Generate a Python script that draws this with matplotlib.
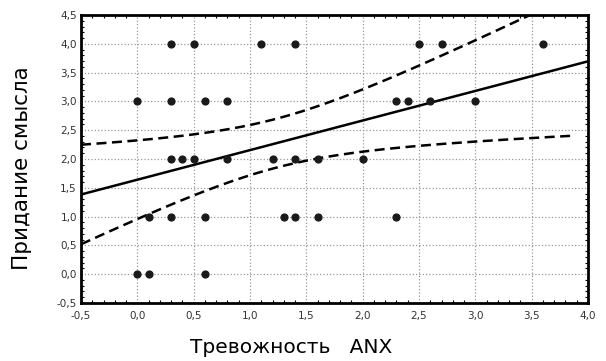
import numpy as np
import matplotlib.pyplot as plt
from matplotlib.ticker import MultipleLocator, FuncFormatter

# Scatter data (ANX vs meaning score)
anx = [0.3, 0.5, 1.1, 1.4, 2.5, 2.7, 3.6,
       0.0, 0.3, 0.6, 0.8, 2.3, 2.4, 2.6, 3.0,
       0.3, 0.4, 0.5, 0.8, 1.2, 1.4, 1.6, 2.0,
       0.1, 0.3, 0.6, 1.3, 1.4, 1.6, 2.3,
       0.0, 0.1, 0.6]
meaning = [4, 4, 4, 4, 4, 4, 4,
           3, 3, 3, 3, 3, 3, 3, 3,
           2, 2, 2, 2, 2, 2, 2, 2,
           1, 1, 1, 1, 1, 1, 1,
           0, 0, 0]

x = np.array(anx)
y = np.array(meaning)

# Linear fit with 95% confidence band of the mean
slope, icept = np.polyfit(x, y, 1)
n = len(x)
resid = y - (icept + slope * x)
s = np.sqrt(np.sum(resid ** 2) / (n - 2))
t_crit = 2.04
xs = np.linspace(-0.5, 4.0, 200)
fit = icept + slope * xs
se = s * np.sqrt(1 / n + (xs - x.mean()) ** 2 / np.sum((x - x.mean()) ** 2))
upper = fit + t_crit * se
lower = fit - t_crit * se

fig = plt.figure(figsize=(6.06, 3.61), dpi=100)
ax = fig.add_axes([0.1337, 0.1607, 0.8366, 0.7977])

ax.scatter(x, y, s=24, color='#1a1a1a', zorder=3)
ax.plot(xs, fit, color='black', linewidth=1.8)
ax.plot(xs, upper, color='black', linewidth=1.8, dashes=(4, 2.2))
ax.plot(xs[xs <= 3.9], lower[xs <= 3.9], color='black', linewidth=1.8,
        dashes=(4, 2.2))

ax.set_xlim(-0.5, 4.0)
ax.set_ylim(-0.5, 4.5)
ax.xaxis.set_major_locator(MultipleLocator(0.5))
ax.yaxis.set_major_locator(MultipleLocator(0.5))
ax.xaxis.set_minor_locator(MultipleLocator(0.1))
ax.yaxis.set_minor_locator(MultipleLocator(0.1))
comma = FuncFormatter(lambda v, p: f"{v:.1f}".replace('.', ','))
ax.xaxis.set_major_formatter(comma)
ax.yaxis.set_major_formatter(comma)
ax.tick_params(which='both', direction='in', top=True, right=True,
               labelsize=7.5, labelcolor='#333333')
ax.tick_params(axis='x', pad=6)
ax.tick_params(axis='y', pad=3)
ax.tick_params(which='major', length=0)
ax.tick_params(which='minor', length=2.5, width=0.8)
ax.grid(True, which='major', color='#999999', linestyle=':', linewidth=0.9)
for sp in ax.spines.values():
    sp.set_linewidth(2)

ax.set_xlabel("Тревожность   ANX", fontsize=14.5)
ax.set_ylabel("Придание смысла", fontsize=15.5)
ax.xaxis.set_label_coords(0.414, -0.12)
ax.yaxis.set_label_coords(-0.097, 0.47)

fig.savefig("out.png", dpi=100)
